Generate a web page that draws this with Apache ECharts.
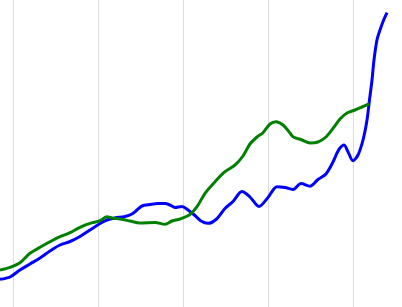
<!DOCTYPE html>
<html>
<head>
<meta charset="utf-8">
<script src="https://cdn.jsdelivr.net/npm/echarts@6/dist/echarts.min.js"></script>
<style>html,body{margin:0;padding:0;background:#fff;}#c{width:402px;height:307px;}</style>
</head>
<body>
<div id="c"></div>
<script>
const blueYears = [1978.41,1979.59,1980.76,1981.94,1983.12,1984.29,1985.47,1986.65,1987.82,1989.0,1990.18,1991.0,1991.94,1993.12,1993.94,1994.53,1995.12,1996.06,1997.0,1997.82,1998.41,1999.0,1999.82,2000.53,2001.35,2002.06,2002.88,2003.82,2004.88,2005.82,2006.88,2007.82,2008.88,2009.94,2011.0,2011.94,2012.88,2013.82,2014.88,2015.82,2016.76,2017.59,2018.06,2018.41,2018.88,2019.35,2019.94,2020.53,2021.12,2021.59,2021.88,2022.18,2022.41,2022.76,2023.12,2023.47,2023.94];
const blueValues = [27.7,30,37,43,49,56,62,65.5,70.5,77,83.5,87,89,90.5,93,97,101,102.5,103.5,103.5,102,99.5,100.5,97,91.5,86,83.7,87.5,98.5,105.5,115.5,110,100.5,109.5,120.3,119.5,117.5,123.5,120.8,127.5,133,145,154,159,162,155.3,146.3,152,167,187,207,227,247,267,277,285.3,294.3];
const greenYears = [1978.41,1979.59,1980.76,1981.94,1983.12,1984.29,1985.47,1986.65,1987.82,1989.0,1990.18,1991.0,1991.59,1992.53,1993.71,1994.88,1996.65,1997.82,1998.65,1999.59,2000.76,2001.59,2002.53,2003.71,2004.88,2006.06,2007.0,2007.82,2008.65,2009.35,2010.18,2010.88,2011.71,2012.53,2012.88,2013.94,2014.88,2015.82,2016.76,2017.59,2018.41,2019.24,2020.18,2021.0,2021.82];
const greenValues = [37,39.7,44.3,53.7,59.7,65.3,70.3,74.3,79.7,83.7,86.3,90.3,89,88,86,84,84.5,82.7,86,88,92.5,100.3,113.7,125.3,135.3,142,151,163,170,174.3,183,185.3,182,174,170.3,167,164,165,170,178.7,188,194,197,200,203];
const xMin = 1978.4118;
const xMax = 2025.7059;

const zip = (xs, ys) => xs.map((x, i) => [x, ys[i]]);
const chart = echarts.init(document.getElementById('c'), null, {renderer: 'canvas'});
chart.setOption({
  animation: false,
  backgroundColor: '#ffffff',
  grid: {left: 0, right: 0, top: 0, bottom: 0, containLabel: false},
  xAxis: {
    type: 'value', min: xMin, max: xMax, minInterval: 10, maxInterval: 10,
    axisLine: {show: false}, axisTick: {show: false}, axisLabel: {show: false},
    splitLine: {show: true, showMinLine: false, showMaxLine: false, lineStyle: {color: '#dddddd', width: 1}}
  },
  yAxis: {
    type: 'value', min: 0, max: 307,
    axisLine: {show: false}, axisTick: {show: false}, axisLabel: {show: false},
    splitLine: {show: false}
  },
  series: [
    {type: 'line', data: zip(blueYears, blueValues), smooth: 0.3, showSymbol: false,
     lineStyle: {color: '#0000ff', width: 3}, itemStyle: {color: '#0000ff'}},
    {type: 'line', data: zip(greenYears, greenValues), smooth: 0.3, showSymbol: false,
     lineStyle: {color: '#008000', width: 3}, itemStyle: {color: '#008000'}}
  ]
});
</script>
</body>
</html>
